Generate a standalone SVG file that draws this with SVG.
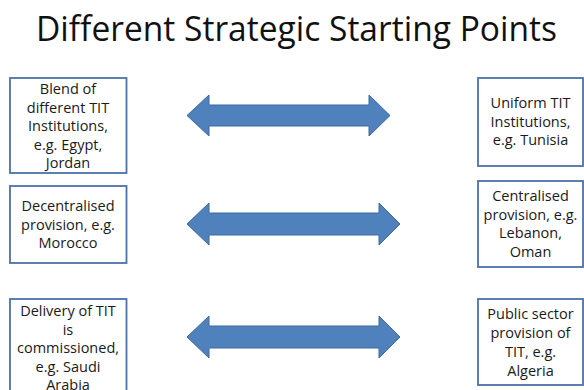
<svg xmlns="http://www.w3.org/2000/svg" width="584" height="390" viewBox="0 0 584 390">
<style>
.box{fill:#fff;stroke:#4a72a8;stroke-width:1.8}
.t{font-family:"Open Sans","Noto Sans","Liberation Sans",sans-serif;font-size:14.5px;fill:#1a1a1a;text-anchor:middle}
.title{font-family:"Open Sans","Noto Sans","Liberation Sans",sans-serif;font-size:34px;fill:#111}
.arr{fill:#4f81bd;stroke:#3f6a9e;stroke-width:1}
</style>
<rect width="584" height="390" fill="#fff"/>
<text class="title" x="36" y="41" textLength="521" lengthAdjust="spacingAndGlyphs">Different Strategic Starting Points</text>
<g id="left1">
<rect class="box" x="10" y="78" width="116.5" height="95"/>
<text class="t" x="68" y="94">Blend of</text>
<text class="t" x="68" y="112.5">different TIT</text>
<text class="t" x="68" y="131">Institutions,</text>
<text class="t" x="68" y="149.5">e.g. Egypt,</text>
<text class="t" x="68" y="168">Jordan</text>
</g>
<g id="left2">
<rect class="box" x="10" y="186" width="116.5" height="77"/>
<text class="t" x="68" y="211">Decentralised</text>
<text class="t" x="68" y="229.5">provision, e.g.</text>
<text class="t" x="68" y="248">Morocco</text>
</g>
<g id="left3">
<rect class="box" x="10" y="299" width="116.5" height="100"/>
<text class="t" x="68" y="316">Delivery of TIT</text>
<text class="t" x="68" y="334.5">is</text>
<text class="t" x="68" y="353">commissioned,</text>
<text class="t" x="68" y="371.5">e.g. Saudi</text>
<text class="t" x="68" y="390">Arabia</text>
</g>
<g id="right1">
<rect class="box" x="478" y="78" width="105" height="88"/>
<text class="t" x="530.5" y="108">Uniform TIT</text>
<text class="t" x="530.5" y="126.5">Institutions,</text>
<text class="t" x="530.5" y="145">e.g. Tunisia</text>
</g>
<g id="right2">
<rect class="box" x="478" y="181" width="105" height="86"/>
<text class="t" x="530.5" y="201">Centralised</text>
<text class="t" x="530.5" y="219.5">provision, e.g.</text>
<text class="t" x="530.5" y="238">Lebanon,</text>
<text class="t" x="530.5" y="256.5">Oman</text>
</g>
<g id="right3">
<rect class="box" x="478" y="299" width="105" height="86"/>
<text class="t" x="530.5" y="319">Public sector</text>
<text class="t" x="530.5" y="338">provision of</text>
<text class="t" x="530.5" y="357">TIT, e.g.</text>
<text class="t" x="530.5" y="376">Algeria</text>
</g>
<g id="connectors">
<polygon class="arr" points="187,115.5 209,95 209,105 369,105 369,95 390,115.5 369,136 369,126 209,126 209,136"/>
<polygon class="arr" points="187,224 209,203 209,213 379,213 379,203 400,224 379,245 379,235 209,235 209,245"/>
<polygon class="arr" points="187,337 209,316 209,326 379,326 379,316 400,337 379,358 379,348 209,348 209,358"/>
</g>
</svg>
